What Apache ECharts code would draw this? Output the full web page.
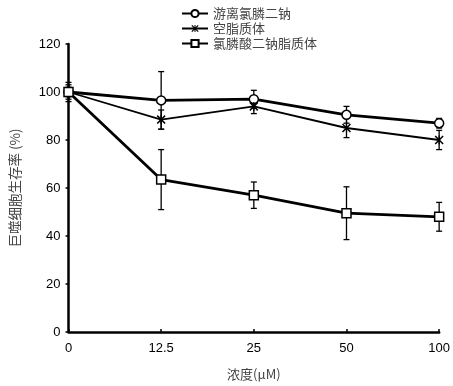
<!DOCTYPE html>
<html><head><meta charset="utf-8">
<script src="https://cdn.jsdelivr.net/npm/echarts@6/dist/echarts.min.js"></script>
<style>html,body{margin:0;padding:0;background:#fff}#c{width:453px;height:386px}</style>
</head><body><div id="c"></div>
<script>
const categories = ['0', '12.5', '25', '50', '100'];
const freeName = '游离氯膦二钠';
const lipoName = '空脂质体';
const drugName = '氯膦酸二钠脂质体';
const freeVals = [100, 96.5, 97, 90.5, 87];
const freeErr = [4, 12, 3.7, 3.5, 2];
const lipoVals = [100, 88.5, 94, 85, 80];
const lipoErr = [3, 4, 3, 4, 4];
const drugVals = [100, 63.5, 57, 49.5, 48];
const drugErr = [2, 12.5, 5.5, 11, 6];
const yTicks = [0, 20, 40, 60, 80, 100, 120];

const starPath = 'path://M0,1.2L1.2,0L5,3.8L8.8,0L10,1.2L6.2,5L10,8.8L8.8,10L5,6.2L1.2,10L0,8.8L3.8,5Z M4.3,0L5.7,0L5.7,10L4.3,10Z';

function errSeries(vals, errs) {
  return {
    type: 'custom',
    silent: true,
    z: 1,
    data: vals.map((v, i) => [i, v, errs[i]]),
    renderItem: function (params, api) {
      const i = api.value(0), v = api.value(1), e = api.value(2);
      const top = api.coord([i, v + e]);
      const bot = api.coord([i, v - e]);
      const w = 3;
      const st = { stroke: '#000', lineWidth: 1.3 };
      return {
        type: 'group',
        children: [
          { type: 'line', shape: { x1: top[0], y1: top[1], x2: bot[0], y2: bot[1] }, style: st },
          { type: 'line', shape: { x1: top[0] - w, y1: top[1], x2: top[0] + w, y2: top[1] }, style: st },
          { type: 'line', shape: { x1: bot[0] - w, y1: bot[1], x2: bot[0] + w, y2: bot[1] }, style: st }
        ]
      };
    }
  };
}

const chart = echarts.init(document.getElementById('c'));
chart.setOption({
  animation: false,
  textStyle: { fontFamily: 'Liberation Sans, Noto Sans CJK SC, sans-serif' },
  legend: {
    orient: 'vertical',
    left: 176,
    top: 2,
    itemGap: 2,
    itemWidth: 26,
    itemHeight: 9,
    textStyle: { fontSize: 13, color: '#444', fontFamily: 'Noto Sans CJK SC, sans-serif' },
    data: [freeName, lipoName, drugName]
  },
  grid: { left: 65, right: 11, top: 44, bottom: 52 },
  xAxis: {
    type: 'category',
    data: categories,
    boundaryGap: false,
    name: '浓度(μM)',
    nameLocation: 'middle',
    nameGap: 36,
    nameTextStyle: { fontSize: 13, color: '#444', fontFamily: 'Noto Sans CJK SC, sans-serif' },
    axisLine: { lineStyle: { color: '#000', width: 2.5 } },
    axisTick: { show: true, inside: true, length: 3, lineStyle: { color: '#000', width: 1.5 } },
    axisLabel: { fontSize: 13, color: '#000', margin: 10 },
    splitLine: { show: false }
  },
  yAxis: {
    type: 'value',
    min: 0,
    max: 120,
    interval: 20,
    name: '巨噬细胞生存率 (%)',
    nameLocation: 'middle',
    nameGap: 47,
    nameTextStyle: { fontSize: 13.5, color: '#444', fontFamily: 'Noto Sans CJK SC, sans-serif' },
    axisLine: { show: true, lineStyle: { color: '#000', width: 2.5 } },
    axisTick: { show: true, length: 3, lineStyle: { color: '#000', width: 1.5 } },
    axisLabel: { fontSize: 13, color: '#000', margin: 8, formatter: v => yTicks.includes(v) ? String(v) : '' },
    splitLine: { show: false }
  },
  series: [
    errSeries(freeVals, freeErr),
    errSeries(lipoVals, lipoErr),
    errSeries(drugVals, drugErr),
    {
      name: freeName, type: 'line', data: freeVals, z: 3,
      symbol: 'circle', symbolSize: 9, showAllSymbol: true,
      lineStyle: { color: '#000', width: 2.8 },
      itemStyle: { color: '#fff', borderColor: '#000', borderWidth: 1.5 }
    },
    {
      name: lipoName, type: 'line', data: lipoVals, z: 3,
      symbol: starPath, symbolSize: 9, showAllSymbol: true,
      lineStyle: { color: '#000', width: 1.8 },
      itemStyle: { color: '#000', borderColor: '#000', borderWidth: 0 }
    },
    {
      name: drugName, type: 'line', data: drugVals, z: 4,
      symbol: 'rect', symbolSize: 9, showAllSymbol: true,
      lineStyle: { color: '#000', width: 2.8 },
      itemStyle: { color: '#fff', borderColor: '#000', borderWidth: 1.5 }
    }
  ]
});
</script></body></html>
